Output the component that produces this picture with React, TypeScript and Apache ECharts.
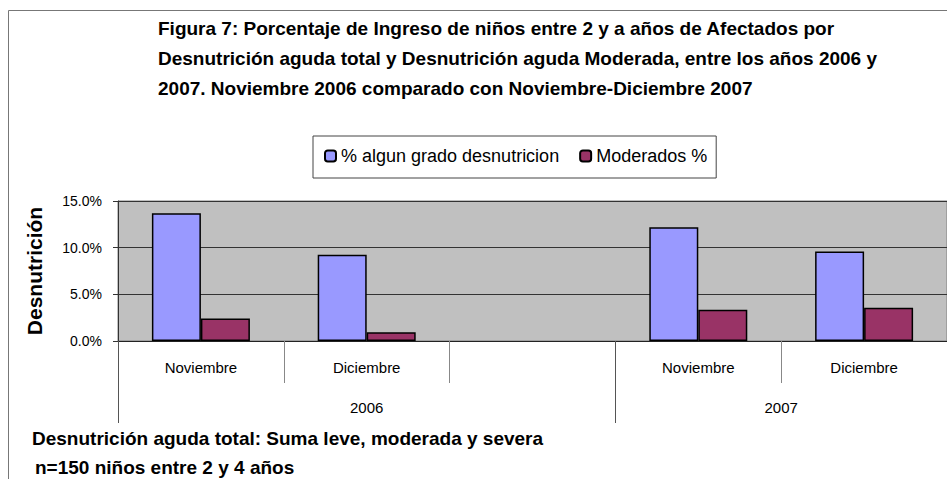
import React, { useEffect, useRef } from "react";
import * as echarts from "echarts";

const months = ["Noviembre", "Diciembre", "", "Noviembre", "Diciembre"];
const totalPct = [13.7, 9.25, null, 12.2, 9.6];
const moderatePct = [2.4, 0.95, null, 3.35, 3.55];
const years = ["2006", "2007"];
const yearSpans = [3, 2];
const seriesNames = ["% algun grado desnutricion", "Moderados %"];
const titleLines = [
  "Figura 7: Porcentaje de Ingreso de niños entre 2 y a años de Afectados por",
  "Desnutrición aguda total y Desnutrición aguda Moderada, entre los años 2006 y",
  "2007. Noviembre 2006 comparado con Noviembre-Diciembre 2007",
];
const noteLines = [
  "Desnutrición aguda total: Suma leve, moderada y severa",
  "n=150 niños entre 2 y 4 años",
];
const yTicks = { min: 0, max: 15, interval: 5 };

const FONT = "'Liberation Sans', Arial, sans-serif";

export default function App() {
  const ref = useRef<HTMLDivElement>(null);
  useEffect(() => {
    document.body.style.margin = "0";
    if (!ref.current) return;
    const chart = echarts.init(ref.current, null, { renderer: "svg" });

    const boundaries: number[] = [0];
    const yearCenters: number[] = [];
    let acc = 0;
    yearSpans.forEach((s) => {
      yearCenters.push(acc + s / 2);
      acc += s;
      boundaries.push(acc);
    });
    const total = months.length;

    chart.setOption({
      animation: false,
      textStyle: { fontFamily: FONT },
      title: {
        text: titleLines.join("\n"),
        left: 158,
        top: 13,
        padding: 0,
        textStyle: {
          fontFamily: FONT,
          fontWeight: "bold",
          fontSize: 19,
          lineHeight: 30,
          color: "#000",
        },
      },
      legend: {
        left: 313,
        top: 136,
        padding: [11, 9, 13, 11],
        itemWidth: 11,
        itemHeight: 11,
        itemGap: 20,
        borderColor: "#444",
        borderWidth: 1,
        textStyle: { fontFamily: FONT, fontSize: 18, color: "#000" },
        data: seriesNames,
      },
      grid: {
        left: 118,
        top: 201,
        width: 831,
        height: 140,
        show: true,
        backgroundColor: "#C0C0C0",
        borderColor: "#808080",
        borderWidth: 1,
      },
      xAxis: [
        {
          type: "category",
          data: months,
          position: "bottom",
          axisLine: { lineStyle: { color: "#222", width: 1 } },
          axisTick: {
            show: true,
            interval: 0,
            length: 42,
            lineStyle: { color: "#888" },
          },
          axisLabel: {
            interval: 0,
            margin: 19,
            fontSize: 15,
            color: "#000",
            fontFamily: FONT,
          },
        },
        {
          type: "value",
          min: 0,
          max: total,
          position: "bottom",
          axisLine: { show: false },
          splitLine: { show: false },
          axisTick: {
            show: true,
            length: 82,
            customValues: boundaries,
            lineStyle: { color: "#555" },
          },
          axisLabel: {
            customValues: yearCenters,
            margin: 59,
            fontSize: 15,
            color: "#000",
            fontFamily: FONT,
            formatter: (v: number) => {
              const i = yearCenters.indexOf(v);
              return i >= 0 ? years[i] : "";
            },
          },
        },
      ],
      yAxis: {
        type: "value",
        min: yTicks.min,
        max: yTicks.max,
        interval: yTicks.interval,
        name: "Desnutrición",
        nameLocation: "middle",
        nameRotate: 90,
        nameGap: 73,
        nameTextStyle: {
          fontFamily: FONT,
          fontWeight: "bold",
          fontSize: 21,
          color: "#000",
        },
        axisLine: { show: true, lineStyle: { color: "#333" } },
        axisTick: { show: true, length: 5, lineStyle: { color: "#333" } },
        axisLabel: {
          margin: 16,
          fontSize: 14,
          color: "#000",
          fontFamily: FONT,
          formatter: (v: number) => v.toFixed(1) + "%",
        },
        splitLine: { show: true, lineStyle: { color: "#333", width: 1 } },
      },
      series: [
        {
          name: seriesNames[0],
          type: "bar",
          data: totalPct,
          barWidth: 49,
          barGap: "0%",
          itemStyle: { color: "#9999FF", borderColor: "#000", borderWidth: 1.5 },
        },
        {
          name: seriesNames[1],
          type: "bar",
          data: moderatePct,
          barWidth: 49,
          barGap: "0%",
          itemStyle: { color: "#993366", borderColor: "#000", borderWidth: 1.5 },
        },
      ],
      graphic: [
        {
          type: "line",
          shape: { x1: 8.5, y1: 10.5, x2: 947, y2: 10.5 },
          style: { stroke: "#777", lineWidth: 1 },
        },
        {
          type: "line",
          shape: { x1: 8.5, y1: 10.5, x2: 8.5, y2: 479 },
          style: { stroke: "#777", lineWidth: 1 },
        },
        {
          type: "text",
          x: 32,
          y: 438,
          style: {
            text: noteLines[0],
            fontFamily: FONT,
            fontWeight: "bold",
            fontSize: 19,
            fill: "#000",
            verticalAlign: "middle",
          },
        },
        {
          type: "text",
          x: 35,
          y: 467,
          style: {
            text: noteLines[1],
            fontFamily: FONT,
            fontWeight: "bold",
            fontSize: 19,
            fill: "#000",
            verticalAlign: "middle",
          },
        },
      ],
    });
    return () => chart.dispose();
  }, []);
  return <div ref={ref} style={{ width: 947, height: 479 }} />;
}
